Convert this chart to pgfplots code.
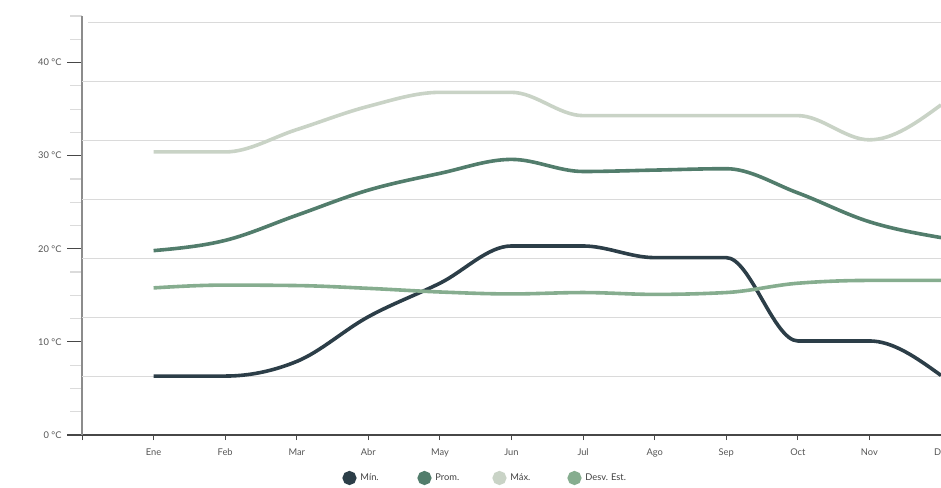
\documentclass[border=0pt]{standalone}
\usepackage{pgfplots}
\pgfplotsset{compat=1.18}
\usepackage{fontspec}
\setmainfont{Lato}
\definecolor{minc}{HTML}{2C3E48}
\definecolor{promc}{HTML}{527D6C}
\definecolor{maxc}{HTML}{C9D3C6}
\definecolor{desvc}{HTML}{86AD8F}
\definecolor{gridc}{HTML}{DADADA}
\definecolor{labc}{HTML}{555555}
\makeatletter
\newcount\mono@n
\newcount\mono@i
\def\mX#1{\csname mono@x\the\numexpr#1\relax\endcsname}
\def\mY#1{\csname mono@y\the\numexpr#1\relax\endcsname}
\def\mH#1{\csname mono@h\the\numexpr#1\relax\endcsname}
\def\mS#1{\csname mono@s\the\numexpr#1\relax\endcsname}
\def\mM#1{\csname mono@m\the\numexpr#1\relax\endcsname}
\def\pgfplothandlermonotone{%
  \def\pgf@plotstreamstart{\global\mono@n=0 }%
  \def\pgf@plotstreampoint##1{\pgf@process{##1}\global\advance\mono@n by 1
     \expandafter\xdef\csname mono@x\the\mono@n\endcsname{\the\pgf@x}%
     \expandafter\xdef\csname mono@y\the\mono@n\endcsname{\the\pgf@y}}%
  \def\pgf@plotstreamspecial##1{}%
  \def\pgf@plotstreamend{\mono@draw}%
}
\def\mono@draw{%
  \mono@i=1
  \loop\ifnum\mono@i<\mono@n
    \edef\mono@xa{\mX{\mono@i}}\edef\mono@xb{\mX{\mono@i+1}}%
    \edef\mono@ya{\mY{\mono@i}}\edef\mono@yb{\mY{\mono@i+1}}%
    \pgfmathsetmacro\mono@hh{\mono@xb-\mono@xa}%
    \pgfmathsetmacro\mono@ss{(\mono@yb-\mono@ya)/\mono@hh}%
    \expandafter\let\csname mono@h\the\mono@i\endcsname\mono@hh
    \expandafter\let\csname mono@s\the\mono@i\endcsname\mono@ss
    \advance\mono@i by 1
  \repeat
  \mono@i=2
  \loop\ifnum\mono@i<\mono@n
    \edef\mono@sa{\mS{\mono@i-1}}\edef\mono@sb{\mS{\mono@i}}%
    \edef\mono@ha{\mH{\mono@i-1}}\edef\mono@hb{\mH{\mono@i}}%
    \pgfmathsetmacro\mono@mm{(\mono@sa*\mono@sb>0) ? (sign(\mono@sa)+sign(\mono@sb))*min(abs(\mono@sa),abs(\mono@sb),0.5*abs((\mono@sa*\mono@hb+\mono@sb*\mono@ha)/(\mono@ha+\mono@hb))) : 0}%
    \expandafter\let\csname mono@m\the\mono@i\endcsname\mono@mm
    \advance\mono@i by 1
  \repeat
  \edef\mono@sa{\mS{1}}\edef\mono@mb{\mM{2}}%
  \pgfmathsetmacro\mono@mm{(3*\mono@sa-\mono@mb)/2}%
  \expandafter\let\csname mono@m1\endcsname\mono@mm
  \edef\mono@sa{\mS{\mono@n-1}}\edef\mono@mb{\mM{\mono@n-1}}%
  \pgfmathsetmacro\mono@mm{(3*\mono@sa-\mono@mb)/2}%
  \expandafter\let\csname mono@m\the\mono@n\endcsname\mono@mm
  \pgf@plot@first@action{\pgfqpoint{\mX{1}}{\mY{1}}}%
  \mono@i=1
  \loop\ifnum\mono@i<\mono@n
    \edef\mono@xa{\mX{\mono@i}}\edef\mono@xb{\mX{\mono@i+1}}%
    \edef\mono@ya{\mY{\mono@i}}\edef\mono@yb{\mY{\mono@i+1}}%
    \edef\mono@hh{\mH{\mono@i}}%
    \edef\mono@ma{\mM{\mono@i}}\edef\mono@mb{\mM{\mono@i+1}}%
    \pgfmathsetmacro\mono@cax{\mono@xa+\mono@hh/3}%
    \pgfmathsetmacro\mono@cay{\mono@ya+\mono@ma*\mono@hh/3}%
    \pgfmathsetmacro\mono@cbx{\mono@xb-\mono@hh/3}%
    \pgfmathsetmacro\mono@cby{\mono@yb-\mono@mb*\mono@hh/3}%
    \pgfpathcurveto{\pgfqpoint{\mono@cax pt}{\mono@cay pt}}{\pgfqpoint{\mono@cbx pt}{\mono@cby pt}}{\pgfqpoint{\mono@xb}{\mono@yb}}%
    \advance\mono@i by 1
  \repeat
}
\tikzset{monotone/.code={\let\tikz@plot@handler=\pgfplothandlermonotone}}
\makeatother
\begin{document}
\begin{tikzpicture}
\begin{axis}[
  scale only axis,
  width=859pt, height=419pt,
  at={(82pt,52pt)}, anchor=south west,
  xmin=-1, xmax=11, ymin=0, ymax=45,
  axis x line*=bottom, axis y line*=left,
  x axis line style={-, draw=black!72, line width=1.2pt},
  y axis line style={-, draw=black!45, line width=1.5pt},
  xtick={-1,0,...,11},
  xticklabels={,Ene,Feb,Mar,Abr,May,Jun,Jul,Ago,Sep,Oct,Nov,Dic},
  xtick style={draw=black!72, line width=1pt, /pgfplots/major tick length=5pt},
  ytick={0,10,20,30,40},
  yticklabel={\pgfmathprintnumber{\tick} °C},
  minor ytick={2.5,5,7.5,12.5,15,17.5,22.5,25,27.5,32.5,35,37.5,42.5,45},
  major y tick style={draw=black!72, line width=1.2pt},
  minor y tick style={draw=black!14, line width=1.2pt},
  tick align=outside,
  major tick length=15pt,
  minor tick length=12pt,
  /pgf/number format/assume math mode=true,
  ticklabel style={font=\fontsize{9.3}{11}\selectfont, text=labc},
  yticklabel style={xshift=-2pt},
  xticklabel style={yshift=5pt},
  extra y ticks={6.335,12.67,19.005,25.34,31.675,38.01,44.345},
  extra y tick labels={},
  extra y tick style={grid=major, /pgfplots/major tick length=0pt,
     major grid style={draw=gridc, line width=1pt, shorten <=6pt}},
  every axis plot/.append style={line width=3.6pt, monotone, mark=none},
  legend columns=4,
  legend style={draw=none, fill=none, at={(0.303,-0.1026)}, anchor=west,
     inner sep=0pt, font=\fontsize{9.3}{11}\selectfont, text=black!75,
     nodes={text width=53pt, anchor=west, inner xsep=4pt}},
  legend image code/.code={\fill[#1] (5pt,0pt) circle (5.2pt);},
]
\addplot[color=minc] coordinates {(0,6.33) (1,6.33) (2,7.9) (3,12.7) (4,16.3) (5,20.3) (6,20.3) (7,19.05) (8,19.05) (9,10.1) (10,10.1) (11,6.4)};
\addlegendentry{Mín.}
\addplot[color=promc] coordinates {(0,19.8) (1,20.9) (2,23.6) (3,26.3) (4,28.1) (5,29.6) (6,28.3) (7,28.45) (8,28.6) (9,26.0) (10,22.9) (11,21.2)};
\addlegendentry{Prom.}
\addplot[color=maxc] coordinates {(0,30.4) (1,30.4) (2,32.8) (3,35.3) (4,36.8) (5,36.8) (6,34.3) (7,34.3) (8,34.3) (9,34.3) (10,31.7) (11,35.45)};
\addlegendentry{Máx.}
\addplot[color=desvc] coordinates {(0,15.8) (1,16.1) (2,16.05) (3,15.75) (4,15.36) (5,15.15) (6,15.3) (7,15.1) (8,15.3) (9,16.3) (10,16.6) (11,16.6)};
\addlegendentry{Desv.\ Est.}
\end{axis}
\pgfresetboundingbox
\path[use as bounding box] (0,0) rectangle (941pt,487pt);
\end{tikzpicture}
\end{document}
